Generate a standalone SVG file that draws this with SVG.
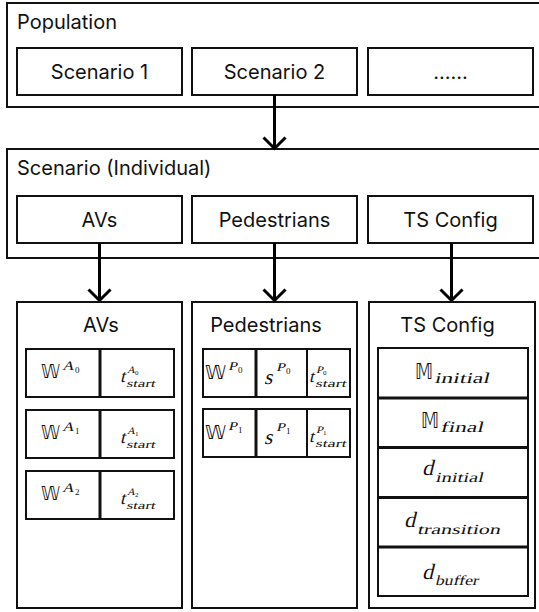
<svg xmlns="http://www.w3.org/2000/svg" width="539" height="612" viewBox="0 0 539 612">
<style>
.box{fill:#fff;stroke:#111;stroke-width:2}
.div{stroke:#111;stroke-width:3}
.thin{stroke:#111;stroke-width:2}
.lbl{font-family:Inter,"Liberation Sans",sans-serif;font-size:20px;fill:#111}
.mid{text-anchor:middle;dominant-baseline:central}
.m{font-family:"Liberation Serif","DejaVu Serif",serif;font-style:normal;fill:#111}
.up{font-family:"Liberation Serif","DejaVu Serif",serif;fill:#111}
.bb{font-family:"DejaVu Sans","DejaVu Serif",sans-serif;fill:#111}
.conn{stroke:#000;stroke-width:3;fill:none;marker-end:url(#chev)}
</style>
<defs>
<marker id="chev" markerUnits="userSpaceOnUse" markerWidth="26" markerHeight="16" viewBox="0 0 26 16" refX="13" refY="14" orient="0">
<path d="M2,2.5 L13,13.5 L24,2.5" fill="none" stroke="#000" stroke-width="3"/>
</marker>
</defs>
<rect width="539" height="612" fill="#fff"/>

<g id="population">
<rect class="box" x="7" y="3" width="540" height="104"/>
<text class="lbl" x="17" y="29">Population</text>
<g id="scenario1"><rect class="box" x="17" y="48" width="165" height="47"/><text class="lbl mid" x="99.5" y="71.5">Scenario 1</text></g>
<g id="scenario2"><rect class="box" x="192" y="48" width="165" height="47"/><text class="lbl mid" x="274.5" y="71.5">Scenario 2</text></g>
<g id="scenario-more"><rect class="box" x="368" y="48" width="165" height="47"/><text class="lbl mid" x="450.5" y="71.5">......</text></g>
</g>

<g id="scenario">
<rect class="box" x="7" y="149" width="540" height="109"/>
<text class="lbl" x="17" y="175">Scenario (Individual)</text>
<g id="s-avs"><rect class="box" x="17" y="196" width="165" height="47"/><text class="lbl mid" x="99.5" y="219.5">AVs</text></g>
<g id="s-peds"><rect class="box" x="192" y="196" width="165" height="47"/><text class="lbl mid" x="274.5" y="219.5">Pedestrians</text></g>
<g id="s-ts"><rect class="box" x="368" y="196" width="165" height="47"/><text class="lbl mid" x="450.5" y="219.5">TS Config</text></g>
</g>

<g id="connectors">
<path class="conn" d="M274.5,95 V149"/>
<path class="conn" d="M99.5,243 V301"/>
<path class="conn" d="M274.5,243 V301"/>
<path class="conn" d="M451.5,243 V301"/>
</g>

<g id="avs">
<rect class="box" x="17" y="302" width="165" height="306"/>
<text class="lbl mid" x="101" y="325">AVs</text>
<g id="av0" transform="translate(0,349)">
<rect class="box" x="26" y="0" width="148" height="48"/><line class="div" x1="100" y1="0" x2="100" y2="48"/>
<text class="bb" x="41" y="29" font-size="19" textLength="19" lengthAdjust="spacingAndGlyphs">𝕎</text>
<text class="m" transform="translate(62,21) skewX(-14)" font-size="13" textLength="12" lengthAdjust="spacingAndGlyphs">A</text><text class="up" x="75" y="24" font-size="9">0</text>
<text class="m" transform="translate(120,33) skewX(-14)" font-size="18">t</text>
<text class="m" transform="translate(127,24) skewX(-14)" font-size="10" textLength="8" lengthAdjust="spacingAndGlyphs">A</text><text class="up" x="135" y="26" font-size="7">0</text>
<text class="m" transform="translate(126,38) skewX(-14)" font-size="11" textLength="29" lengthAdjust="spacingAndGlyphs">start</text>
</g>
<g id="av1" transform="translate(0,410)">
<rect class="box" x="26" y="0" width="148" height="48"/><line class="div" x1="100" y1="0" x2="100" y2="48"/>
<text class="bb" x="41" y="29" font-size="19" textLength="19" lengthAdjust="spacingAndGlyphs">𝕎</text>
<text class="m" transform="translate(62,21) skewX(-14)" font-size="13" textLength="12" lengthAdjust="spacingAndGlyphs">A</text><text class="up" x="75" y="24" font-size="9">1</text>
<text class="m" transform="translate(120,33) skewX(-14)" font-size="18">t</text>
<text class="m" transform="translate(127,24) skewX(-14)" font-size="10" textLength="8" lengthAdjust="spacingAndGlyphs">A</text><text class="up" x="135" y="26" font-size="7">1</text>
<text class="m" transform="translate(126,38) skewX(-14)" font-size="11" textLength="29" lengthAdjust="spacingAndGlyphs">start</text>
</g>
<g id="av2" transform="translate(0,471)">
<rect class="box" x="26" y="0" width="148" height="48"/><line class="div" x1="100" y1="0" x2="100" y2="48"/>
<text class="bb" x="41" y="29" font-size="19" textLength="19" lengthAdjust="spacingAndGlyphs">𝕎</text>
<text class="m" transform="translate(62,21) skewX(-14)" font-size="13" textLength="12" lengthAdjust="spacingAndGlyphs">A</text><text class="up" x="75" y="24" font-size="9">2</text>
<text class="m" transform="translate(120,33) skewX(-14)" font-size="18">t</text>
<text class="m" transform="translate(127,24) skewX(-14)" font-size="10" textLength="8" lengthAdjust="spacingAndGlyphs">A</text><text class="up" x="135" y="26" font-size="7">2</text>
<text class="m" transform="translate(126,38) skewX(-14)" font-size="11" textLength="29" lengthAdjust="spacingAndGlyphs">start</text>
</g>
</g>

<g id="pedestrians">
<rect class="box" x="192" y="302" width="165" height="306"/>
<text class="lbl mid" x="266" y="325">Pedestrians</text>
<g id="p0" transform="translate(0,349)">
<rect class="box" x="203" y="0" width="147" height="48"/><line class="div" x1="256" y1="0" x2="256" y2="48"/><line class="thin" x1="307" y1="0" x2="307" y2="48"/>
<text class="bb" x="205" y="30" font-size="19" textLength="21" lengthAdjust="spacingAndGlyphs">𝕎</text>
<text class="m" transform="translate(228,21) skewX(-14)" font-size="12" textLength="9" lengthAdjust="spacingAndGlyphs">P</text><text class="up" x="238" y="24" font-size="9">0</text>
<text class="m" transform="translate(264,35) skewX(-14)" font-size="21">s</text>
<text class="m" transform="translate(276,22) skewX(-14)" font-size="12" textLength="9" lengthAdjust="spacingAndGlyphs">P</text><text class="up" x="286" y="25" font-size="9">0</text>
<text class="m" transform="translate(309,33) skewX(-14)" font-size="17">t</text>
<text class="m" transform="translate(316,24) skewX(-14)" font-size="10" textLength="7" lengthAdjust="spacingAndGlyphs">P</text><text class="up" x="323" y="26" font-size="7">0</text>
<text class="m" transform="translate(315,38) skewX(-14)" font-size="11" textLength="31" lengthAdjust="spacingAndGlyphs">start</text>
</g>
<g id="p1" transform="translate(0,409)">
<rect class="box" x="203" y="0" width="147" height="48"/><line class="div" x1="256" y1="0" x2="256" y2="48"/><line class="thin" x1="307" y1="0" x2="307" y2="48"/>
<text class="bb" x="205" y="30" font-size="19" textLength="21" lengthAdjust="spacingAndGlyphs">𝕎</text>
<text class="m" transform="translate(228,21) skewX(-14)" font-size="12" textLength="9" lengthAdjust="spacingAndGlyphs">P</text><text class="up" x="238" y="24" font-size="9">1</text>
<text class="m" transform="translate(264,35) skewX(-14)" font-size="21">s</text>
<text class="m" transform="translate(276,22) skewX(-14)" font-size="12" textLength="9" lengthAdjust="spacingAndGlyphs">P</text><text class="up" x="286" y="25" font-size="9">1</text>
<text class="m" transform="translate(309,33) skewX(-14)" font-size="17">t</text>
<text class="m" transform="translate(316,24) skewX(-14)" font-size="10" textLength="7" lengthAdjust="spacingAndGlyphs">P</text><text class="up" x="323" y="26" font-size="7">1</text>
<text class="m" transform="translate(315,38) skewX(-14)" font-size="11" textLength="31" lengthAdjust="spacingAndGlyphs">start</text>
</g>
</g>

<g id="ts-config">
<rect class="box" x="369" y="302" width="166" height="306"/>
<text class="lbl mid" x="447.5" y="325">TS Config</text>
<rect class="box" x="378" y="348" width="150" height="248"/>
<line class="div" x1="378" y1="398" x2="528" y2="398"/>
<line class="div" x1="378" y1="447.5" x2="528" y2="447.5"/>
<line class="div" x1="378" y1="497.5" x2="528" y2="497.5"/>
<line class="div" x1="378" y1="547" x2="528" y2="547"/>
<g id="m-initial"><text class="bb" x="415" y="379" font-size="21" textLength="18" lengthAdjust="spacingAndGlyphs">𝕄</text><text class="m" transform="translate(434,383) skewX(-14)" font-size="15" textLength="55" lengthAdjust="spacingAndGlyphs">initial</text></g>
<g id="m-final"><text class="bb" x="421" y="428" font-size="21" textLength="18" lengthAdjust="spacingAndGlyphs">𝕄</text><text class="m" transform="translate(440,432) skewX(-14)" font-size="15" textLength="43" lengthAdjust="spacingAndGlyphs">final</text></g>
<g id="d-initial"><text class="m" transform="translate(422,475) skewX(-14)" font-size="22">d</text><text class="m" transform="translate(435,482) skewX(-14)" font-size="14" textLength="48" lengthAdjust="spacingAndGlyphs">initial</text></g>
<g id="d-transition"><text class="m" transform="translate(404,527) skewX(-14)" font-size="22">d</text><text class="m" transform="translate(417,534) skewX(-14)" font-size="14" textLength="83" lengthAdjust="spacingAndGlyphs">transition</text></g>
<g id="d-buffer"><text class="m" transform="translate(422,579) skewX(-14)" font-size="22">d</text><text class="m" transform="translate(435,585) skewX(-14)" font-size="14" textLength="43" lengthAdjust="spacingAndGlyphs">buffer</text></g>
</g>
</svg>
